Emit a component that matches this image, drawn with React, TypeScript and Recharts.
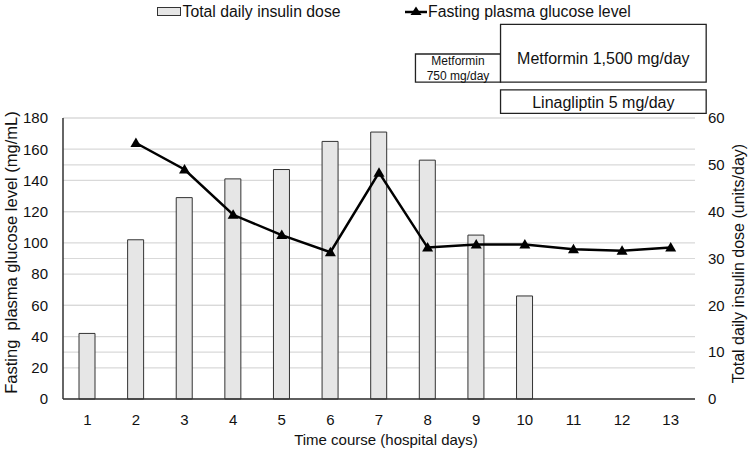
import {
  ComposedChart, Bar, Line, XAxis, YAxis, CartesianGrid,
  ReferenceArea, Legend, Label,
} from "recharts";

// hospital days and the two measured series
const days = [1, 2, 3, 4, 5, 6, 7, 8, 9, 10, 11, 12, 13];
const insulinDose = [14, 34, 43, 47, 49, 55, 57, 51, 35, 22, null, null, null];
const fastingGlucose = [null, 164, 147, 118, 105, 94, 145, 97, 99, 99, 96, 95, 97];

const glucoseTicks = [0, 20, 40, 60, 80, 100, 120, 140, 160, 180];
const insulinTicks = [0, 10, 20, 30, 40, 50, 60];

// oral agents given alongside insulin (start / end in hospital days)
const regimenLines = [["Metformin", "750 mg/day"], ["Metformin 1,500 mg/day"], ["Linagliptin 5 mg/day"]];
const regimenStart = [7.75, 9.5, 9.5];
const regimenEnd = [9.5, 13.73, 13.73];

const data = days.map((day, i) => ({
  day,
  insulin: insulinDose[i],
  glucose: fastingGlucose[i],
}));

const FONT = "'Liberation Sans', Arial, Helvetica, sans-serif";

// boxes sit above the plot; rows are expressed on the glucose scale
const regimenRows = [
  { y1: 203, y2: 221, fontSize: 12 },
  { y1: 203, y2: 240, fontSize: 16, dy: 5 },
  { y1: 183, y2: 198, fontSize: 16, dy: 1 },
];

function regimenLabel(lines: string[], fontSize: number, dy = 0) {
  return (props: any) => {
    const { x, y, width, height } = props.viewBox;
    const cx = x + width / 2;
    const cy = y + height / 2 + dy;
    const lh = fontSize * 1.25;
    return (
      <text x={cx} y={cy} textAnchor="middle" fontFamily={FONT} fontSize={fontSize} fill="#111">
        {lines.map((l, i) => (
          <tspan key={i} x={cx} y={cy + (i - (lines.length - 1) / 2) * lh} dominantBaseline="central">{l}</tspan>
        ))}
      </text>
    );
  };
}

function Triangle(props: any) {
  const { cx, cy, index } = props;
  if (cx == null || cy == null) return <g key={index} />;
  return (
    <polygon
      key={index}
      points={`${cx},${cy - 5.5} ${cx - 5.5},${cy + 4} ${cx + 5.5},${cy + 4}`}
      fill="#000"
    />
  );
}

function LegendContent() {
  return (
    <svg width={750} height={26}>
      <rect x={157.5} y={7.5} width={23} height={8} fill="#e6e6e6" stroke="#333" strokeWidth={1} />
      <text x={182.5} y={17} fontFamily={FONT} fontSize={15.8} fill="#111">Total daily insulin dose</text>
      <line x1={405} y1={12} x2={427} y2={12} stroke="#000" strokeWidth={2.5} />
      <polygon points="416,6.5 410.5,15 421.5,15" fill="#000" />
      <text x={428} y={17} fontFamily={FONT} fontSize={15.8} fill="#111">Fasting plasma glucose level</text>
    </svg>
  );
}

function LeftTitle(props: any) {
  const { x, y, height } = props.viewBox;
  const tx = x + 17;
  const ty = y + height / 2 - 6;
  return (
    <text x={tx} y={ty} transform={`rotate(-90 ${tx} ${ty})`} textAnchor="middle"
      fontFamily={FONT} fontSize={16.5} fill="#111" style={{ whiteSpace: "pre" }}>
      {"Fasting  plasma glucose level (mg/mL)"}
    </text>
  );
}

function RightTitle(props: any) {
  const { x, y, width, height } = props.viewBox;
  const tx = x + width - 6;
  const ty = y + height / 2 + 5;
  return (
    <text x={tx} y={ty} transform={`rotate(-90 ${tx} ${ty})`} textAnchor="middle"
      fontFamily={FONT} fontSize={16} fill="#111">
      Total daily insulin dose (units/day)
    </text>
  );
}

export default function App() {
  return (
    <div style={{ position: "absolute", left: 0, top: 0, width: 750, height: 449, background: "#fff" }}>
      <ComposedChart
        width={750}
        height={449}
        data={data}
        margin={{ top: 118, right: 0, bottom: 0, left: 0 }}
        style={{ fontFamily: FONT }}
      >
        <CartesianGrid yAxisId="left" vertical={false} stroke="#d9d9d9" strokeWidth={1.2} />
        <CartesianGrid yAxisId="right" vertical={false} stroke="#d9d9d9" strokeWidth={1.2} />
        <XAxis
          dataKey="day"
          type="number"
          domain={[0.5, 13.5]}
          ticks={days}
          height={50}
          tickLine={false}
          axisLine={{ stroke: "#333", strokeWidth: 1.5 }}
          tick={{ fontSize: 15, fill: "#111" }}
          tickMargin={9}
        >
          <Label value="Time course (hospital days)" position="insideBottom" offset={4} dx={7}
            style={{ fontSize: 15, fill: "#111" }} />
        </XAxis>
        <YAxis
          yAxisId="left"
          orientation="left"
          width={63}
          domain={[0, 180]}
          ticks={glucoseTicks}
          tickLine={false}
          axisLine={{ stroke: "#333", strokeWidth: 1.5 }}
          tick={{ fontSize: 15, fill: "#111" }}
          tickMargin={9}
        >
          <Label content={LeftTitle} />
        </YAxis>
        <YAxis
          yAxisId="right"
          orientation="right"
          width={55}
          domain={[0, 60]}
          ticks={insulinTicks}
          tickLine={false}
          axisLine={false}
          tick={{ fontSize: 15, fill: "#111", textAnchor: "start" }}
          tickMargin={7}
        >
          <Label content={RightTitle} />
        </YAxis>
        <Legend verticalAlign="middle" content={LegendContent}
          wrapperStyle={{ left: 0, top: 0, width: 750, height: 26 }} />

        <Bar yAxisId="right" dataKey="insulin" name="Total daily insulin dose" barSize={16}
          fill="#e6e6e6" stroke="#333" strokeWidth={1} isAnimationActive={false} />
        <Line yAxisId="left" dataKey="glucose" name="Fasting plasma glucose level" stroke="#000"
          strokeWidth={2.5} dot={Triangle} activeDot={false} isAnimationActive={false} />

        {regimenLines.map((lines, i) => (
          <ReferenceArea
            key={i}
            yAxisId="left"
            x1={regimenStart[i]}
            x2={regimenEnd[i]}
            y1={regimenRows[i].y1}
            y2={regimenRows[i].y2}
            ifOverflow="visible"
            fill="#fff"
            fillOpacity={1}
            stroke="#222"
            strokeWidth={1.3}
            label={regimenLabel(lines, regimenRows[i].fontSize, regimenRows[i].dy)}
          />
        ))}
      </ComposedChart>
    </div>
  );
}
